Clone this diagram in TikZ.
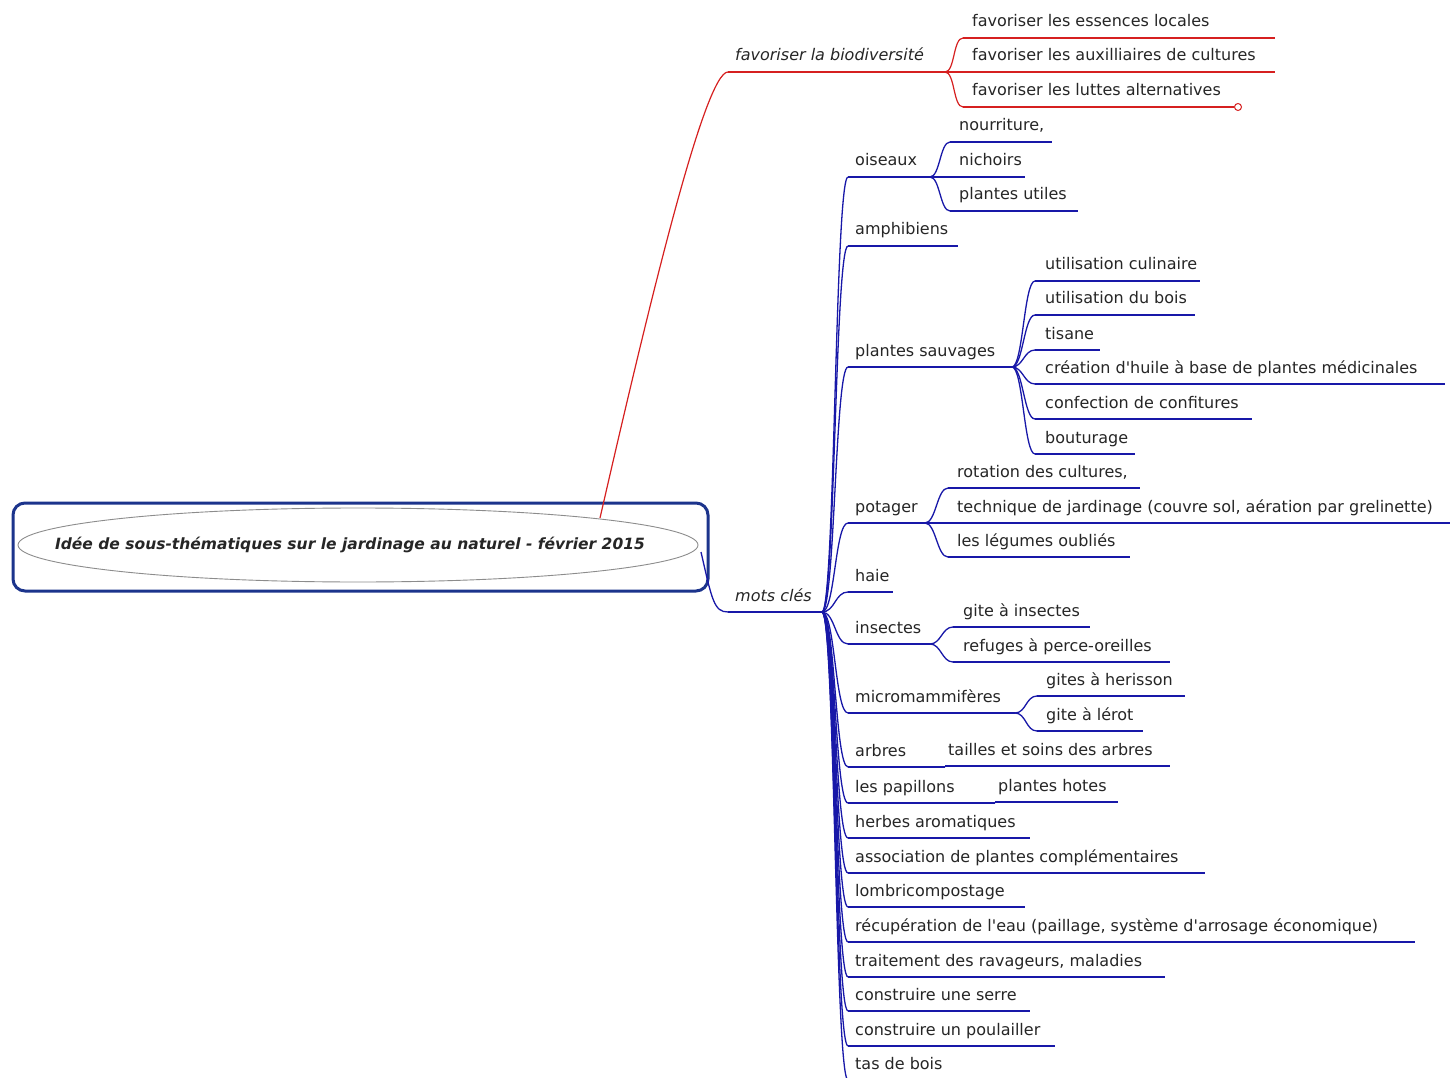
\documentclass[tikz,border=0pt]{standalone}
\usepackage{fontspec}
\setmainfont{DejaVu Sans}[Ligatures=TeXOff]
\definecolor{mmred}{RGB}{214,32,32}
\definecolor{mmblue}{RGB}{24,24,168}
\definecolor{rootblue}{RGB}{28,52,140}
\definecolor{ellgray}{RGB}{140,140,140}
\newcommand\topic[8]{%
  \node[lbl,#3,anchor=base west] (#1) at (#4,#5-11) {#8};
  \coordinate (#1-s) at (#6,#5);
  \coordinate (#1-e) at (#7,#5);
  \draw[#2] (#1-s) -- (#1-e);}
\newcommand\link[4]{\draw[#1] (#2-e) .. controls +(#4,0) and +(-#4,0) .. (#3-s);}
\begin{document}
\begin{tikzpicture}[x=1pt,y=-1pt,
  lbl/.style={inner sep=0pt,text=black!85,font=\fontsize{16}{19}\selectfont},
  ital/.style={font=\fontsize{16}{19}\selectfont\itshape},
  plain/.style={},
  redl/.style={draw=mmred,line width=1.2pt},
  bluel/.style={draw=mmblue,line width=1.3pt},
  rootbox/.style={draw=rootblue,line width=3pt,rounded corners=12pt,fill=white},
  rootell/.style={draw=ellgray,line width=0.9pt,fill=white}]
\useasboundingbox (0,0) rectangle (1452,1078);
\fill[white] (0,0) rectangle (1452,1078);
% root
\draw[rootbox] (13,503) rectangle (708,591);
\draw[rootell] (358,545) ellipse [x radius=340, y radius=37];
\node[inner sep=0pt,font=\fontsize{15.5}{18}\selectfont\bfseries\itshape,text=black!85] (root) at (350,545)
  {Idée de sous-thématiques sur le jardinage au naturel - février 2015};
\coordinate (root-e) at (600,518);
\coordinate (root-b) at (701,552);
% red branch
\topic{bio}{redl}{ital}{735}{72}{728}{945}{favoriser la biodiversité}
\draw[redl] (root-e) .. controls (650,300) and (705,72) .. (bio-s);
\topic{ess}{redl}{plain}{972}{38}{963}{1275}{favoriser les essences locales}
\topic{aux}{redl}{plain}{972}{72}{963}{1275}{favoriser les auxilliaires de cultures}
\topic{lut}{redl}{plain}{972}{107}{963}{1234}{favoriser les luttes alternatives}
\link{redl}{bio}{ess}{10}
\link{redl}{bio}{aux}{10}
\link{redl}{bio}{lut}{10}
\node[draw=mmred,line width=1pt,fill=white,circle,inner sep=0pt,minimum size=7pt] (lutend) at (1238,107) {};
% blue branch
\topic{mots}{bluel}{ital}{735}{612}{728}{822}{mots clés}
\draw[bluel] (root-b) .. controls (712,600) and (714,612) .. (mots-s);
\topic{ois}{bluel}{plain}{855}{177}{848}{930}{oiseaux}
\topic{nou}{bluel}{plain}{959}{142}{950}{1052}{nourriture,}
\topic{nic}{bluel}{plain}{959}{177}{950}{1025}{nichoirs}
\topic{pla}{bluel}{plain}{959}{211}{950}{1078}{plantes utiles}
\topic{amp}{bluel}{plain}{855}{246}{848}{958}{amphibiens}
\topic{sau}{bluel}{plain}{855}{367}{848}{1012}{plantes sauvages}
\topic{cul}{bluel}{plain}{1045}{281}{1035}{1200}{utilisation culinaire}
\topic{boi}{bluel}{plain}{1045}{315}{1035}{1195}{utilisation du bois}
\topic{tis}{bluel}{plain}{1045}{350}{1035}{1100}{tisane}
\topic{hui}{bluel}{plain}{1045}{384}{1035}{1445}{création d'huile à base de plantes médicinales}
\topic{con}{bluel}{plain}{1045}{419}{1035}{1252}{confection de confitures}
\topic{bou}{bluel}{plain}{1045}{454}{1035}{1135}{bouturage}
\topic{pot}{bluel}{plain}{855}{523}{848}{925}{potager}
\topic{rot}{bluel}{plain}{957}{488}{948}{1140}{rotation des cultures,}
\topic{tec}{bluel}{plain}{957}{523}{948}{1450}{technique de jardinage (couvre sol, aération par grelinette)}
\topic{leg}{bluel}{plain}{957}{557}{948}{1130}{les légumes oubliés}
\topic{hai}{bluel}{plain}{855}{592}{848}{893}{haie}
\topic{ins}{bluel}{plain}{855}{644}{848}{930}{insectes}
\topic{git}{bluel}{plain}{963}{627}{953}{1090}{gite à insectes}
\topic{ref}{bluel}{plain}{963}{662}{953}{1170}{refuges à perce-oreilles}
\topic{mic}{bluel}{plain}{855}{713}{848}{1015}{micromammifères}
\topic{her}{bluel}{plain}{1046}{696}{1037}{1185}{gites à herisson}
\topic{ler}{bluel}{plain}{1046}{731}{1037}{1143}{gite à lérot}
\topic{arb}{bluel}{plain}{855}{767}{848}{945}{arbres}
\topic{tai}{bluel}{plain}{948}{766}{945}{1170}{tailles et soins des arbres}
\topic{pap}{bluel}{plain}{855}{803}{848}{995}{les papillons}
\topic{hot}{bluel}{plain}{998}{802}{995}{1118}{plantes hotes}
\topic{aro}{bluel}{plain}{855}{838}{848}{1030}{herbes aromatiques}
\topic{ass}{bluel}{plain}{855}{873}{848}{1205}{association de plantes complémentaires}
\topic{lom}{bluel}{plain}{855}{907}{848}{1025}{lombricompostage}
\topic{rec}{bluel}{plain}{855}{942}{848}{1415}{récupération de l'eau (paillage, système d'arrosage économique)}
\topic{tra}{bluel}{plain}{855}{977}{848}{1165}{traitement des ravageurs, maladies}
\topic{ser}{bluel}{plain}{855}{1011}{848}{1030}{construire une serre}
\topic{pou}{bluel}{plain}{855}{1046}{848}{1055}{construire un poulailler}
\topic{tas}{bluel}{plain}{855}{1080}{848}{960}{tas de bois}
% links from mots clés
\foreach \c in {ois,amp,sau,pot,hai,ins,mic,arb,pap,aro,ass,lom,rec,tra,ser,pou,tas}{\link{bluel}{mots}{\c}{13}}
\foreach \c in {nou,nic,pla}{\link{bluel}{ois}{\c}{10}}
\foreach \c in {cul,boi,tis,hui,con,bou}{\link{bluel}{sau}{\c}{11}}
\foreach \c in {rot,tec,leg}{\link{bluel}{pot}{\c}{11}}
\foreach \c in {git,ref}{\link{bluel}{ins}{\c}{11}}
\foreach \c in {her,ler}{\link{bluel}{mic}{\c}{11}}
\link{bluel}{arb}{tai}{1}
\link{bluel}{pap}{hot}{1}
\end{tikzpicture}
\end{document}
